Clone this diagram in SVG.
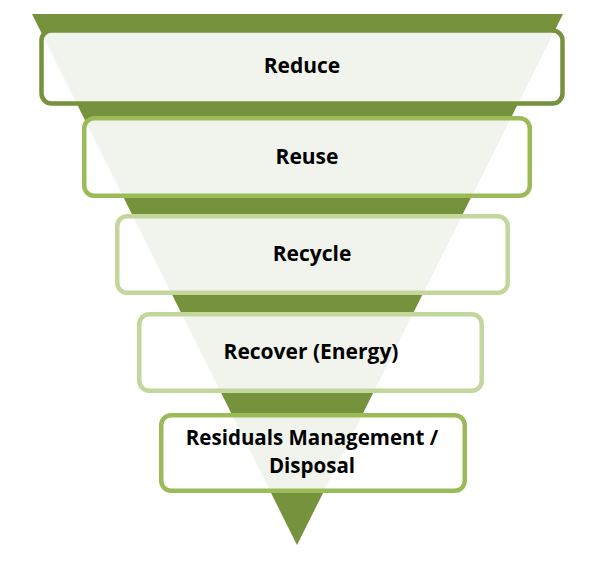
<svg xmlns="http://www.w3.org/2000/svg" width="594" height="563" viewBox="0 0 594 563">
  <style>
    .box { fill: #ffffff; fill-opacity: 0.9; stroke-width: 4.5; }
    .lbl { font-family: "Open Sans", "Liberation Sans", sans-serif; font-weight: bold; font-size: 21px; fill: #000000; text-anchor: middle; }
    .lbl2 { font-size: 20.5px; }
  </style>
  <rect width="594" height="563" fill="#ffffff"/>
  <g id="funnel">
    <polygon points="32,14 563,14 297,545" fill="#76923C"/>
  </g>
  <g id="connectors"></g>
  <g id="reduce">
    <rect class="box" x="41.5" y="30.5" width="521" height="73" rx="10" stroke="#76923C" stroke-width="5"/>
    <text class="lbl" x="302" y="73">Reduce</text>
  </g>
  <g id="reuse">
    <rect class="box" x="84.25" y="118.25" width="445.5" height="77.5" rx="10" stroke="#9BBB59"/>
    <text class="lbl" x="307" y="164">Reuse</text>
  </g>
  <g id="recycle">
    <rect class="box" x="117.25" y="216.25" width="390.5" height="76.5" rx="10" stroke="#C3D69B"/>
    <text class="lbl" x="312" y="261">Recycle</text>
  </g>
  <g id="recover">
    <rect class="box" x="139.25" y="314.25" width="342.5" height="76.5" rx="10" stroke="#C3D69B"/>
    <text class="lbl" x="311" y="359">Recover (Energy)</text>
  </g>
  <g id="residuals">
    <rect class="box" x="161.25" y="415.25" width="303.5" height="75.5" rx="10" stroke="#9BBB59"/>
    <text class="lbl lbl2" x="312" y="444.5">Residuals Management /</text>
    <text class="lbl lbl2" x="312" y="473">Disposal</text>
  </g>
</svg>
